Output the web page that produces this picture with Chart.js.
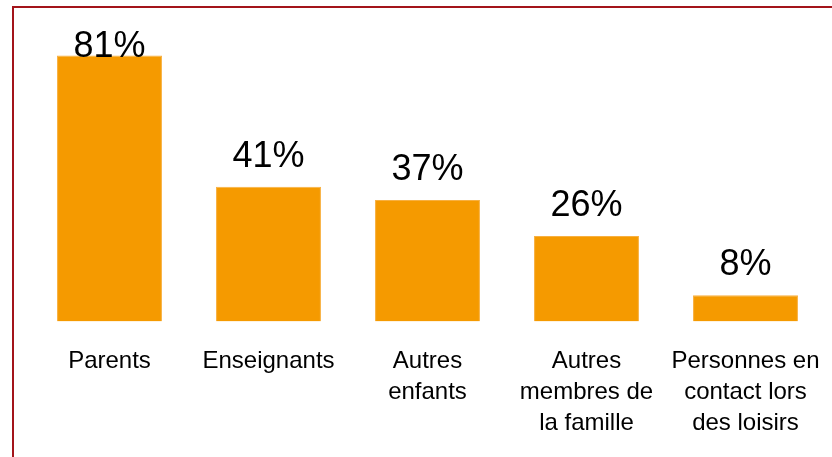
<!DOCTYPE html>
<html>
<head>
<meta charset="utf-8">
<script src="https://cdn.jsdelivr.net/npm/chart.js@4"></script>
<style>
    html, body { margin: 0; padding: 0; background: #fff; overflow: hidden; }
    #wrap { position: relative; width: 832px; height: 457px; }
    #frame {
        position: absolute; left: 12px; top: 6px; width: 900px; height: 600px;
        border-left: 2px solid #a3141a; border-top: 2px solid #a3141a;
        pointer-events: none;
    }
    canvas { position: absolute; left: 0; top: 0; }
</style>
</head>
<body>
<div id="wrap">
    <canvas id="chart" width="832" height="457"></canvas>
    <div id="frame"></div>
</div>
<script>
const categories = [
    'Parents',
    'Enseignants',
    ['Autres', 'enfants'],
    ['Autres', 'membres de', 'la famille'],
    ['Personnes en', 'contact lors', 'des loisirs']
];
const values = [81, 41, 37, 26, 8];
const valueLabels = ['81%', '41%', '37%', '26%', '8%'];

// labels above the bars
const barLabels = {
    id: 'barLabels',
    afterDatasetsDraw(chart) {
        const ctx = chart.ctx;
        const meta = chart.getDatasetMeta(0);
        ctx.save();
        ctx.font = '36px "Liberation Sans", Arial, sans-serif';
        ctx.fillStyle = '#000';
        ctx.textAlign = 'center';
        ctx.textBaseline = 'alphabetic';
        meta.data.forEach((bar, i) => {
            const y = Math.max(bar.y - 20, 57);
            ctx.fillText(valueLabels[i], bar.x, y);
        });
        ctx.restore();
    }
};

new Chart(document.getElementById('chart').getContext('2d'), {
    type: 'bar',
    data: {
        labels: categories,
        datasets: [{
            data: values,
            backgroundColor: '#f59a00',
            borderColor: '#f8b040',
            borderWidth: 1,
            categoryPercentage: 1,
            barPercentage: 0.66
        }]
    },
    options: {
        responsive: false,
        animation: false,
        devicePixelRatio: 1,
        layout: {
            padding: { left: 30, right: 7, top: 26, bottom: -6 }
        },
        plugins: {
            legend: { display: false },
            tooltip: { enabled: false }
        },
        scales: {
            x: {
                grid: { display: false, drawTicks: false },
                border: { display: false },
                afterFit(scale) {
                    scale.paddingLeft = 0;
                    scale.paddingRight = 0;
                },
                ticks: {
                    padding: 24,
                    maxRotation: 0,
                    autoSkip: false,
                    color: '#000',
                    font: { family: '"Liberation Sans", Arial, sans-serif', size: 24, lineHeight: 1.3 }
                }
            },
            y: {
                display: false,
                min: 0,
                max: 90
            }
        }
    },
    plugins: [barLabels]
});
</script>
</body>
</html>
